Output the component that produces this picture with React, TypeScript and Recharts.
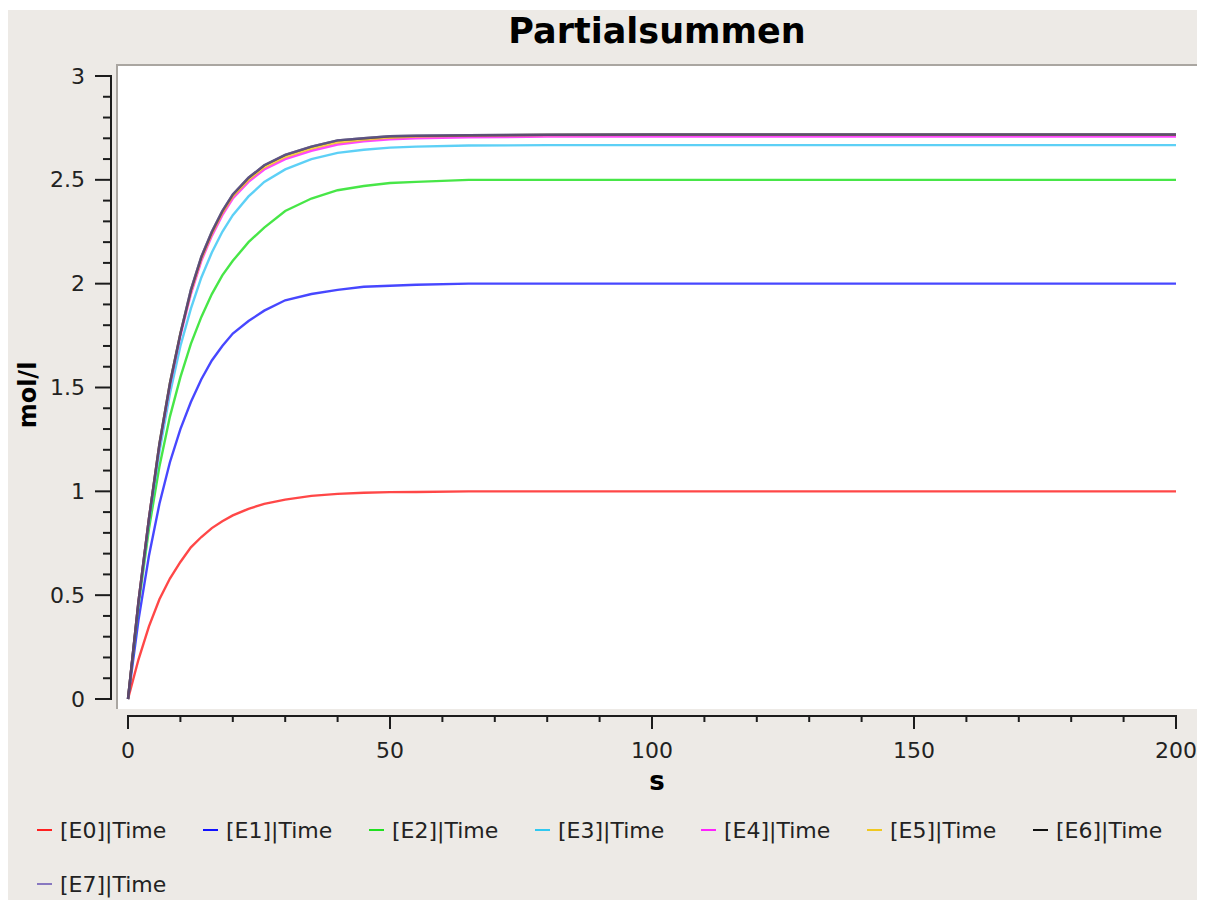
import { Line, LineChart, XAxis, YAxis } from "recharts";

const times = [0, 2, 4, 6, 8, 10, 12, 14, 16, 18, 20, 23, 26, 30, 35, 40, 45, 50, 55, 65, 80, 100, 150, 200];

const e0 = [0, 0.19, 0.35, 0.48, 0.58, 0.66, 0.73, 0.78, 0.823, 0.856, 0.884, 0.916, 0.94, 0.96, 0.978, 0.988, 0.993, 0.996, 0.997, 1.0, 1.0, 1.0, 1.0, 1.0];
const e1 = [0, 0.38, 0.69, 0.94, 1.14, 1.3, 1.43, 1.54, 1.63, 1.7, 1.76, 1.82, 1.87, 1.92, 1.95, 1.97, 1.985, 1.99, 1.995, 2.0, 2.0, 2.0, 2.0, 2.0];
const e2 = [0, 0.45, 0.82, 1.12, 1.36, 1.55, 1.71, 1.84, 1.95, 2.04, 2.11, 2.2, 2.27, 2.35, 2.41, 2.45, 2.47, 2.485, 2.49, 2.5, 2.5, 2.5, 2.5, 2.5];
const e3 = [0, 0.46, 0.85, 1.19, 1.47, 1.7, 1.88, 2.03, 2.15, 2.25, 2.33, 2.42, 2.49, 2.55, 2.6, 2.63, 2.645, 2.655, 2.66, 2.665, 2.667, 2.667, 2.667, 2.667];
const e4 = [0, 0.47, 0.87, 1.22, 1.51, 1.75, 1.95, 2.11, 2.23, 2.33, 2.41, 2.49, 2.55, 2.6, 2.64, 2.67, 2.685, 2.695, 2.7, 2.705, 2.708, 2.708, 2.708, 2.708];
const e5 = [0, 0.47, 0.87, 1.23, 1.52, 1.76, 1.96, 2.12, 2.24, 2.34, 2.42, 2.5, 2.56, 2.61, 2.65, 2.68, 2.693, 2.703, 2.708, 2.713, 2.716, 2.717, 2.717, 2.717];
const e6 = [0, 0.47, 0.87, 1.23, 1.52, 1.76, 1.97, 2.13, 2.25, 2.35, 2.43, 2.51, 2.57, 2.62, 2.66, 2.69, 2.7, 2.71, 2.712, 2.715, 2.717, 2.718, 2.718, 2.718];
const e7 = [0, 0.47, 0.87, 1.23, 1.52, 1.76, 1.97, 2.13, 2.25, 2.35, 2.43, 2.51, 2.57, 2.62, 2.66, 2.69, 2.7, 2.71, 2.712, 2.715, 2.717, 2.718, 2.718, 2.718];

const seriesNames = ["[E0]|Time", "[E1]|Time", "[E2]|Time", "[E3]|Time", "[E4]|Time", "[E5]|Time", "[E6]|Time", "[E7]|Time"];
const seriesValues = [e0, e1, e2, e3, e4, e5, e6, e7];
const lineColors = ["#ff0000", "#0000ff", "#00dd00", "#1ebef2", "#ff00ff", "#f0c000", "#000000", "#6d5cb0"];
const legendColors = ["#ff2020", "#1010ff", "#20e020", "#30c8f0", "#ff20ff", "#f0c820", "#111111", "#8878c0"];

const xTicks = [0, 10, 20, 30, 40, 50, 60, 70, 80, 90, 100, 110, 120, 130, 140, 150, 160, 170, 180, 190, 200];
const xLabels = [0, 50, 100, 150, 200];
const yTicks = [0, 0.1, 0.2, 0.3, 0.4, 0.5, 0.6, 0.7, 0.8, 0.9, 1, 1.1, 1.2, 1.3, 1.4, 1.5, 1.6, 1.7, 1.8, 1.9, 2, 2.1, 2.2, 2.3, 2.4, 2.5, 2.6, 2.7, 2.8, 2.9, 3];
const yLabels = [0, 0.5, 1, 1.5, 2, 2.5, 3];

const rows = times.map((t, i) => {
  const row: Record<string, number> = { t };
  seriesNames.forEach((name, k) => {
    row[name] = seriesValues[k][i];
  });
  return row;
});

// layout (container coords)
const W = 1192;
const H = 890;
const PLOT_L = 120;
const PLOT_R = 1168;
const PLOT_T = 66;
const PLOT_B = 689;
const AXIS_GAP = 17;
const INK = "#1c1c1c";

const isMajor = (list: number[], v: number) => list.some((l) => Math.abs(l - v) < 1e-6);

function YTick(props: any) {
  const { y, payload } = props;
  const v = payload.value;
  const ax = PLOT_L - AXIS_GAP;
  const major = isMajor(yLabels, v);
  return (
    <g>
      {v === 0 && <line x1={ax} y1={y + 1} x2={ax} y2={y - (PLOT_B - PLOT_T) - 1} stroke={INK} strokeWidth={2} />}
      <line x1={ax - (major ? 16 : 8)} y1={y} x2={ax} y2={y} stroke={INK} strokeWidth={2} />
      {major && (
        <text x={ax - 26} y={y} textAnchor="end" dominantBaseline="central" fontSize={22} fill="#222">
          {String(v)}
        </text>
      )}
    </g>
  );
}

function XTick(props: any) {
  const { x, payload } = props;
  const v = payload.value;
  const ay = PLOT_B + AXIS_GAP;
  const major = isMajor(xLabels, v);
  return (
    <g>
      {v === 0 && <line x1={x - 1} y1={ay} x2={x + (PLOT_R - PLOT_L) + 1} y2={ay} stroke={INK} strokeWidth={2} />}
      <line x1={x} y1={ay} x2={x} y2={ay + (major ? 13 : 6)} stroke={INK} strokeWidth={2} />
      {major && (
        <text x={x} y={ay + 34} textAnchor="middle" dominantBaseline="central" fontSize={22} fill="#222">
          {String(v)}
        </text>
      )}
    </g>
  );
}

export default function App() {
  return (
    <div
      style={{
        position: "relative",
        width: W,
        height: H,
        marginTop: 2,
        background: "#edeae6",
        fontFamily: '"DejaVu Sans", sans-serif',
      }}
    >
      <div
        style={{
          position: "absolute",
          left: 108,
          top: 54,
          width: 1082,
          height: 645,
          background: "#ffffff",
          borderTop: "2px solid #aaa6a1",
          borderLeft: "2px solid #aaa6a1",
          boxSizing: "border-box",
        }}
      />
      <div style={{ position: "absolute", left: 0, top: 0 }}>
        <LineChart width={W} height={H} data={rows} margin={{ top: PLOT_T, right: W - PLOT_R, bottom: 101, left: 20 }}>
          <XAxis
            dataKey="t"
            type="number"
            domain={[0, 200]}
            ticks={xTicks}
            interval={0}
            height={100}
            axisLine={false}
            tickLine={false}
            tick={(p: any) => <XTick {...p} />}
          />
          <YAxis
            type="number"
            domain={[0, 3]}
            ticks={yTicks}
            interval={0}
            width={100}
            axisLine={false}
            tickLine={false}
            tick={(p: any) => <YTick {...p} />}
          />
          {seriesNames.map((name, k) => (
            <Line
              key={name}
              type="linear"
              dataKey={name}
              stroke={lineColors[k]}
              strokeOpacity={k === 7 ? 0.6 : 0.72}
              strokeWidth={2.4}
              dot={false}
              isAnimationActive={false}
            />
          ))}
          <text x={649} y={21} textAnchor="middle" dominantBaseline="central" fontSize={35} fontWeight="bold" fill="#000">
            Partialsummen
          </text>
          <text
            x={20}
            y={385}
            transform="rotate(-90, 20, 385)"
            textAnchor="middle"
            dominantBaseline="central"
            fontSize={24}
            fontWeight="bold"
            fill="#000"
          >
            mol/l
          </text>
          <text x={649} y={771} textAnchor="middle" dominantBaseline="central" fontSize={26} fontWeight="bold" fill="#000">
            s
          </text>
        </LineChart>
      </div>
      <div
        style={{
          position: "absolute",
          left: 29,
          top: 793,
          width: 1166,
          display: "flex",
          flexWrap: "wrap",
        }}
      >
        {seriesNames.map((name, k) => (
          <div key={name} style={{ width: 166, height: 54, display: "flex", alignItems: "center" }}>
            <span style={{ display: "inline-block", width: 15, height: 2, background: legendColors[k], marginRight: 8 }} />
            <span style={{ fontSize: 22, color: "#222" }}>{name}</span>
          </div>
        ))}
      </div>
    </div>
  );
}
